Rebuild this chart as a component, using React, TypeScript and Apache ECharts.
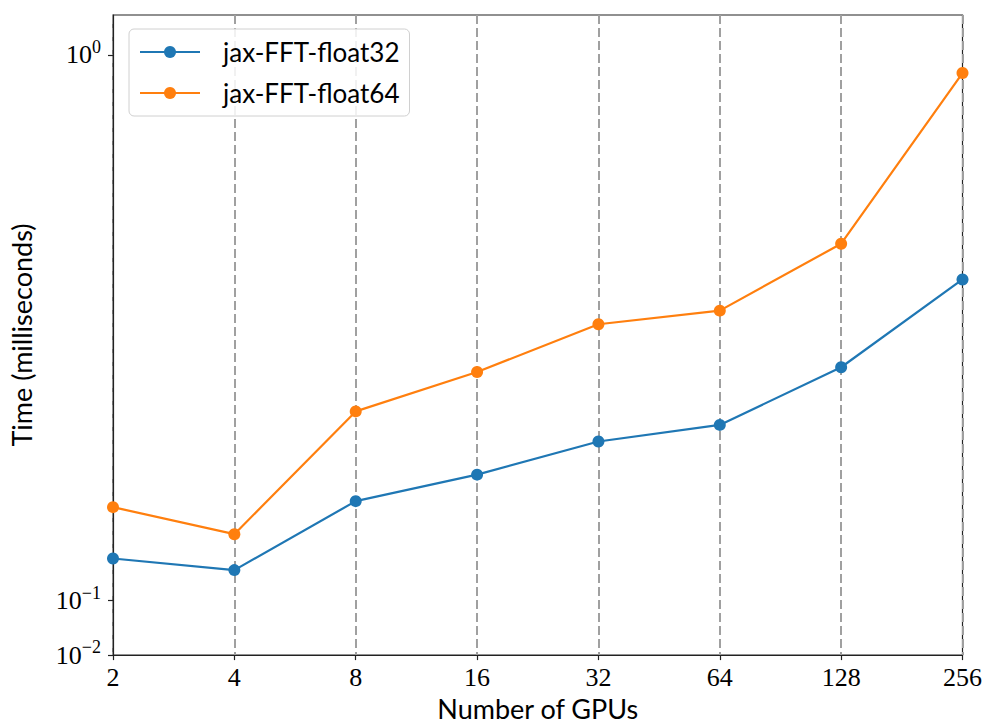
import React, { useEffect, useRef } from "react";
import * as echarts from "echarts";

const gpuCounts = ["2", "4", "8", "16", "32", "64", "128", "256"];
const float32Times = [0.1194, 0.1137, 0.1521, 0.1701, 0.1956, 0.2098, 0.2676, 0.3876];
const float64Times = [0.1483, 0.1323, 0.2221, 0.2623, 0.3208, 0.3398, 0.4507, 0.926];
const seriesNames = ["jax-FFT-float32", "jax-FFT-float64"];
// y axis drawn in log10 space; bottom tick stands for 10^-2
const yTickValues = [-1.1, -1, 0];
const yTickExponents = ["−2", "−1", "0"];

const serif = "'Liberation Serif', 'DejaVu Serif', serif";
const sans = "Lato, 'DejaVu Sans', sans-serif";

export default function App() {
  const ref = useRef<HTMLDivElement>(null);
  useEffect(() => {
    if (!ref.current) return;
    const chart = echarts.init(ref.current, undefined, { renderer: "svg" });
    const toLog = (arr: number[]) => arr.map((v) => Math.log10(v));
    chart.setOption({
      animation: false,
      backgroundColor: "#fff",
      grid: {
        left: 113,
        right: 21,
        top: 15,
        bottom: 68,
        show: true,
        borderColor: "#222",
        borderWidth: 1.2,
        backgroundColor: "transparent",
      },
      legend: {
        orient: "vertical",
        left: 129,
        top: 29,
        itemWidth: 60,
        itemHeight: 15,
        itemGap: 15,
        padding: [10, 10, 10, 10],
        borderColor: "#d0d0d0",
        borderWidth: 1,
        borderRadius: 5,
        backgroundColor: "rgba(255,255,255,0.85)",
        textStyle: {
          fontFamily: sans,
          fontSize: 26,
          color: "#000",
          padding: [0, 0, 0, 18],
        },
        data: seriesNames,
      },
      xAxis: {
        type: "category",
        data: gpuCounts,
        boundaryGap: false,
        name: "Number of GPUs",
        nameLocation: "middle",
        nameGap: 38,
        nameTextStyle: { fontFamily: sans, fontSize: 27, color: "#000" },
        axisLine: { show: true, onZero: false, lineStyle: { color: "#222", width: 1.2 } },
        axisTick: { show: true, length: 5, lineStyle: { color: "#222", width: 1.2 } },
        axisLabel: {
          fontFamily: serif,
          fontSize: 26,
          color: "#000",
          margin: 9,
        },
        splitLine: {
          show: true,
          lineStyle: { color: "#a0a0a0", width: 2, type: [9, 4] },
        },
      },
      yAxis: {
        type: "value",
        min: -1.1,
        max: 0.073,
        name: "Time (milliseconds)",
        nameLocation: "middle",
        nameGap: 78,
        nameTextStyle: { fontFamily: sans, fontSize: 27, color: "#000" },
        axisLine: { show: true, onZero: false, lineStyle: { color: "#222", width: 1.2 } },
        axisTick: {
          show: true,
          length: 5,
          customValues: yTickValues,
          lineStyle: { color: "#222", width: 1.2 },
        },
        axisLabel: {
          customValues: yTickValues,
          margin: 12,
          formatter: (v: number) => {
            const i = yTickValues.findIndex((t) => Math.abs(t - v) < 1e-6);
            if (i < 0) return "";
            return "{b|10}{s|" + yTickExponents[i] + "}";
          },
          rich: {
            b: { fontFamily: serif, fontSize: 26, color: "#000" },
            s: { fontFamily: serif, fontSize: 18, color: "#000", padding: [0, 0, 16, 0] },
          },
        },
        splitLine: { show: false },
      },
      series: [
        {
          name: seriesNames[0],
          type: "line",
          data: toLog(float32Times),
          symbol: "circle",
          symbolSize: 12,
          color: "#1f77b4",
          lineStyle: { width: 2.2, color: "#1f77b4" },
          itemStyle: { color: "#1f77b4" },
          z: 3,
        },
        {
          name: seriesNames[1],
          type: "line",
          data: toLog(float64Times),
          symbol: "circle",
          symbolSize: 12,
          color: "#ff7f0e",
          lineStyle: { width: 2.2, color: "#ff7f0e" },
          itemStyle: { color: "#ff7f0e" },
          z: 3,
        },
      ],
    });
    return () => chart.dispose();
  }, []);
  return (
    <div
      ref={ref}
      style={{ position: "fixed", left: 0, top: 0, width: 985, height: 727 }}
    />
  );
}
